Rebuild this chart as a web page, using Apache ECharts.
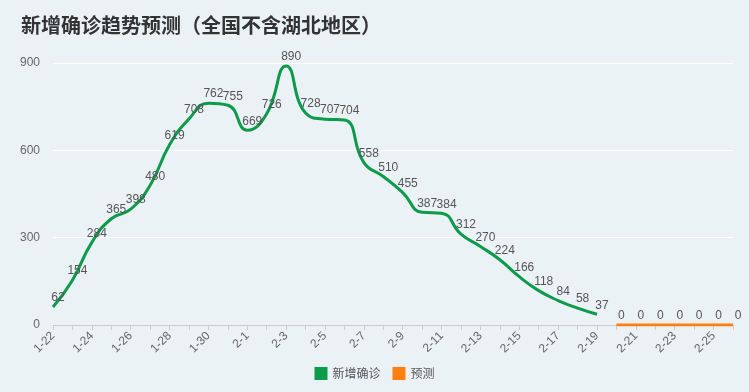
<!DOCTYPE html>
<html><head><meta charset="utf-8">
<script src="https://cdn.jsdelivr.net/npm/echarts@6/dist/echarts.min.js"></script>
<style>html,body{margin:0;padding:0;background:#ebf2f5}#c{width:749px;height:392px}</style>
</head><body><div id="c"></div>
<script>
const categories = ['1-22','1-23','1-24','1-25','1-26','1-27','1-28','1-29','1-30','1-31','2-1','2-2','2-3','2-4','2-5','2-6','2-7','2-8','2-9','2-10','2-11','2-12','2-13','2-14','2-15','2-16','2-17','2-18','2-19','2-20','2-21','2-22','2-23','2-24','2-25','2-26'];
const confirmed = [62,154,284,365,398,480,619,708,762,755,669,726,890,728,707,704,558,510,455,387,384,312,270,224,166,118,84,58,37];
const forecast = [null,null,null,null,null,null,null,null,null,null,null,null,null,null,null,null,null,null,null,null,null,null,null,null,null,null,null,null,null,0,0,0,0,0,0,0];
const yTicks = [0,300,600,900];
const chart = echarts.init(document.getElementById('c'));
chart.setOption({
  backgroundColor:'#ebf2f5',
  title:{text:'新增确诊趋势预测（全国不含湖北地区）',left:16,top:10,textStyle:{fontSize:20,fontWeight:'bold',color:'#333',fontFamily:'Noto Sans CJK SC'}},
  legend:{bottom:7,left:'center',itemWidth:13,itemHeight:13,icon:'rect',itemGap:12,textStyle:{color:'#555',fontSize:12,fontFamily:'Noto Sans CJK SC'},data:['新增确诊','预测']},
  grid:{left:53,right:16,top:63,bottom:67},
  xAxis:{type:'category',boundaryGap:false,data:categories,
    axisLine:{lineStyle:{color:'#ccc'}},axisTick:{alignWithLabel:true,interval:0,lineStyle:{color:'#ccc'}},
    axisLabel:{rotate:45,interval:1,color:'#666',fontSize:12,margin:9}},
  yAxis:{type:'value',min:yTicks[0],max:yTicks[yTicks.length-1],interval:300,
    axisLine:{show:false},axisTick:{show:false},
    axisLabel:{color:'#666',fontSize:12,margin:13},
    splitLine:{lineStyle:{color:'#fff'}}},
  series:[
    {name:'新增确诊',type:'line',smooth:true,symbol:'circle',symbolSize:0,showSymbol:true,data:confirmed,
      lineStyle:{width:3,color:'#0c9a4b'},itemStyle:{color:'#0c9a4b'},
      label:{show:true,position:'top',offset:[5,2],color:'#555',fontSize:12}},
    {name:'预测',type:'line',smooth:true,symbol:'circle',symbolSize:0,showSymbol:true,data:forecast,
      lineStyle:{width:3,color:'#ff7f0e'},itemStyle:{color:'#ff7f0e'},
      label:{show:true,position:'top',offset:[5,2],color:'#555',fontSize:12}}
  ]
});
</script></body></html>
